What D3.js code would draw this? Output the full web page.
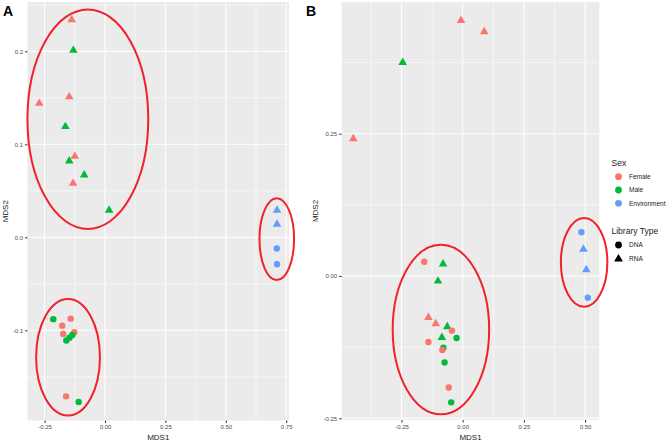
<!DOCTYPE html>
<html><head><meta charset="utf-8">
<script src="https://cdn.jsdelivr.net/npm/d3@7"></script>
<style>body{margin:0;background:#fff}svg{display:block}text{font-family:Arial,"Liberation Sans",sans-serif}</style>
</head><body><svg id="c" width="669" height="442"></svg>
<script>
// ---- Panel A data ----
const aSex  = ["Female","Male","Female","Female","Male","Female","Male","Male","Female","Male",
               "Male","Female","Female","Female","Female","Male","Male","Male","Female","Male",
               "Environment","Environment","Environment","Environment"];
const aType = ["RNA","RNA","RNA","RNA","RNA","RNA","RNA","RNA","RNA","RNA",
               "DNA","DNA","DNA","DNA","DNA","DNA","DNA","DNA","DNA","DNA",
               "RNA","RNA","DNA","DNA"];
const aMDS1 = [-0.138,-0.131,-0.272,-0.148,-0.164,-0.125,-0.148,-0.086,-0.132,0.017,
               -0.214,-0.142,-0.177,-0.173,-0.127,-0.160,-0.147,-0.135,-0.161,-0.109,
               0.712,0.712,0.711,0.712];
const aMDS2 = [0.234,0.201,0.144,0.151,0.119,0.087,0.082,0.067,0.058,0.029,
               -0.088,-0.0875,-0.095,-0.104,-0.102,-0.111,-0.108,-0.105,-0.171,-0.177,
               0.029,0.014,-0.012,-0.029];
const aXTicks = [-0.25,0,0.25,0.5,0.75];
const aXLabels = ["-0.25","0.00","0.25","0.50","0.75"];
const aYTicks = [-0.1,0,0.1,0.2];
const aYLabels = ["-0.1","0.0","0.1","0.2"];
const aEllCx = [-0.071,-0.153,0.711], aEllCy = [0.127,-0.129,-0.002];
const aEllRx = [0.250,0.132,0.0716], aEllRy = [0.118,0.0627,0.044];

// ---- Panel B data ----
const bSex  = ["Female","Female","Male","Female","Female","Male","Male","Female","Female","Male",
               "Female","Female","Male","Male","Male","Female","Male","Female","Male",
               "Environment","Environment","Environment","Environment"];
const bType = ["RNA","RNA","RNA","RNA","DNA","RNA","RNA","RNA","RNA","RNA",
               "DNA","DNA","RNA","DNA","DNA","DNA","DNA","DNA","DNA",
               "DNA","RNA","RNA","DNA"];
const bMDS1 = [-0.007,0.088,-0.245,-0.447,-0.157,-0.080,-0.101,-0.140,-0.110,-0.063,
               -0.044,-0.140,-0.085,-0.025,-0.079,-0.083,-0.074,-0.057,-0.047,
               0.485,0.493,0.505,0.511];
const bMDS2 = [0.449,0.429,0.375,0.241,0.025,0.021,-0.009,-0.073,-0.084,-0.089,
               -0.096,-0.116,-0.108,-0.109,-0.126,-0.130,-0.152,-0.196,-0.222,
               0.077,0.047,0.011,-0.038];
const bXTicks = [-0.25,0,0.25,0.5];
const bXLabels = ["-0.25","0.00","0.25","0.50"];
const bYTicks = [-0.25,0,0.25];
const bYLabels = ["-0.25","0.00","0.25"];
const bEllCx = [-0.089,0.496], bEllCy = [-0.094,0.024];
const bEllRx = [0.197,0.095], bEllRy = [0.149,0.078];

const sexLevels = ["Female","Male","Environment"];
const sexColors = ["#F8766D","#00BA38","#619CFF"];
const typeLevels = ["DNA","RNA"];

const color = d3.scaleOrdinal().domain(sexLevels).range(sexColors);
const svg = d3.select("#c");
const triPath = d3.symbol().type(d3.symbolTriangle).size(32)();

function panel(opt){
  const {x0,x1,y0,y1,xdom,ydom,xt,xl,yt,yl,sx,sy,tp,m1,m2,ecx,ecy,erx,ery,tag,tagX,ylabX} = opt;
  const x = d3.scaleLinear().domain(xdom).range([x0,x1]);
  const y = d3.scaleLinear().domain(ydom).range([y1,y0]);
  const g = svg.append("g");
  g.append("rect").attr("x",x0).attr("y",y0).attr("width",x1-x0).attr("height",y1-y0).attr("fill","#EBEBEB");
  // minor grid
  const step = xt[1]-xt[0];
  const xm = []; for(let v=xt[0]-step/2; v<=xdom[1]; v+=step) if(v>=xdom[0]) xm.push(v);
  const ystep = yt[1]-yt[0];
  const ym = []; for(let v=yt[0]-ystep/2; v<=ydom[1]; v+=ystep) if(v>=ydom[0]) ym.push(v);
  g.selectAll(".xm").data(xm).join("line").attr("x1",d=>x(d)).attr("x2",d=>x(d)).attr("y1",y0).attr("y2",y1).attr("stroke","#fff").attr("stroke-width",0.5);
  g.selectAll(".ym").data(ym).join("line").attr("y1",d=>y(d)).attr("y2",d=>y(d)).attr("x1",x0).attr("x2",x1).attr("stroke","#fff").attr("stroke-width",0.5);
  g.selectAll(".xg").data(xt).join("line").attr("x1",d=>x(d)).attr("x2",d=>x(d)).attr("y1",y0).attr("y2",y1).attr("stroke","#fff").attr("stroke-width",1);
  g.selectAll(".yg").data(yt).join("line").attr("y1",d=>y(d)).attr("y2",d=>y(d)).attr("x1",x0).attr("x2",x1).attr("stroke","#fff").attr("stroke-width",1);
  // axes
  const xa = g.append("g").attr("transform",`translate(0,${y1})`)
    .call(d3.axisBottom(x).tickValues(xt).tickFormat((d,i)=>xl[i]).tickSize(2.5).tickPadding(2));
  const ya = g.append("g").attr("transform",`translate(${x0},0)`)
    .call(d3.axisLeft(y).tickValues(yt).tickFormat((d,i)=>yl[i]).tickSize(2.5).tickPadding(2));
  [xa,ya].forEach(a=>{a.select(".domain").remove();a.selectAll("line").attr("stroke","#333");
    a.selectAll("text").attr("fill","#4D4D4D").style("font-size","6px");});
  // points
  d3.range(m1.length).forEach(i=>{
    const fill = color(sx[i]);
    if(tp[i]==="DNA") g.append("circle").attr("cx",x(m1[i])).attr("cy",y(m2[i])).attr("r",3.2).attr("fill",fill);
    else g.append("path").attr("d",triPath).attr("transform",`translate(${x(m1[i])},${y(m2[i])})`).attr("fill",fill);
  });
  // ellipses
  ecx.forEach((c,i)=>{
    g.append("ellipse").attr("cx",x(c)).attr("cy",y(ecy[i]))
      .attr("rx",Math.abs(x(c+erx[i])-x(c))).attr("ry",Math.abs(y(ecy[i]+ery[i])-y(ecy[i])))
      .attr("fill","none").attr("stroke","#F2212B").attr("stroke-width",2);
  });
  // labels
  g.append("text").attr("x",(x0+x1)/2).attr("y",440).attr("text-anchor","middle").style("font-size","8px").attr("fill","#222").text("MDS1");
  g.append("text").attr("transform",`translate(${ylabX},${(y0+y1)/2}) rotate(-90)`).attr("text-anchor","middle").style("font-size","8px").attr("fill","#222").text("MDS2");
  g.append("text").attr("x",tagX).attr("y",16).style("font-size","14px").style("font-weight","bold").attr("fill","#000").text(tag);
}

panel({x0:27.5,x1:289,y0:2,y1:420.5,
  xdom:[(27.5-105)/241.6,(289-105)/241.6], ydom:[(237.3-420.5)/930,(237.3-2)/930],
  xt:aXTicks,xl:aXLabels,yt:aYTicks,yl:aYLabels,sx:aSex,tp:aType,m1:aMDS1,m2:aMDS2,
  ecx:aEllCx,ecy:aEllCy,erx:aEllRx,ery:aEllRy,tag:"A",tagX:3,ylabX:8});
panel({x0:341.7,x1:599.3,y0:2,y1:420,
  xdom:[(341.7-462.7)/244.8,(599.3-462.7)/244.8], ydom:[(276-420)/569.2,(276-2)/569.2],
  xt:bXTicks,xl:bXLabels,yt:bYTicks,yl:bYLabels,sx:bSex,tp:bType,m1:bMDS1,m2:bMDS2,
  ecx:bEllCx,ecy:bEllCy,erx:bEllRx,ery:bEllRy,tag:"B",tagX:306,ylabX:318});

// legend
const lg = svg.append("g");
lg.append("text").attr("x",611.5).attr("y",166).style("font-size","8.5px").attr("fill","#222").text("Sex");
sexLevels.forEach((s,i)=>{
  const yy = 176.7 + i*13.3;
  lg.append("circle").attr("cx",618.5).attr("cy",yy).attr("r",3.4).attr("fill",color(s));
  lg.append("text").attr("x",629).attr("y",yy+2.3).style("font-size","6.5px").attr("fill","#222").text(s);
});
lg.append("text").attr("x",611.5).attr("y",234).style("font-size","8.5px").attr("fill","#222").text("Library Type");
typeLevels.forEach((t,i)=>{
  const yy = 245 + i*14;
  if(t==="DNA") lg.append("circle").attr("cx",618.5).attr("cy",yy).attr("r",3.4).attr("fill","#000");
  else lg.append("path").attr("d",d3.symbol().type(d3.symbolTriangle).size(34)()).attr("transform",`translate(618.5,${yy})`).attr("fill","#000");
  lg.append("text").attr("x",629).attr("y",yy+2.3).style("font-size","6.5px").attr("fill","#222").text(t);
});
</script></body></html>
